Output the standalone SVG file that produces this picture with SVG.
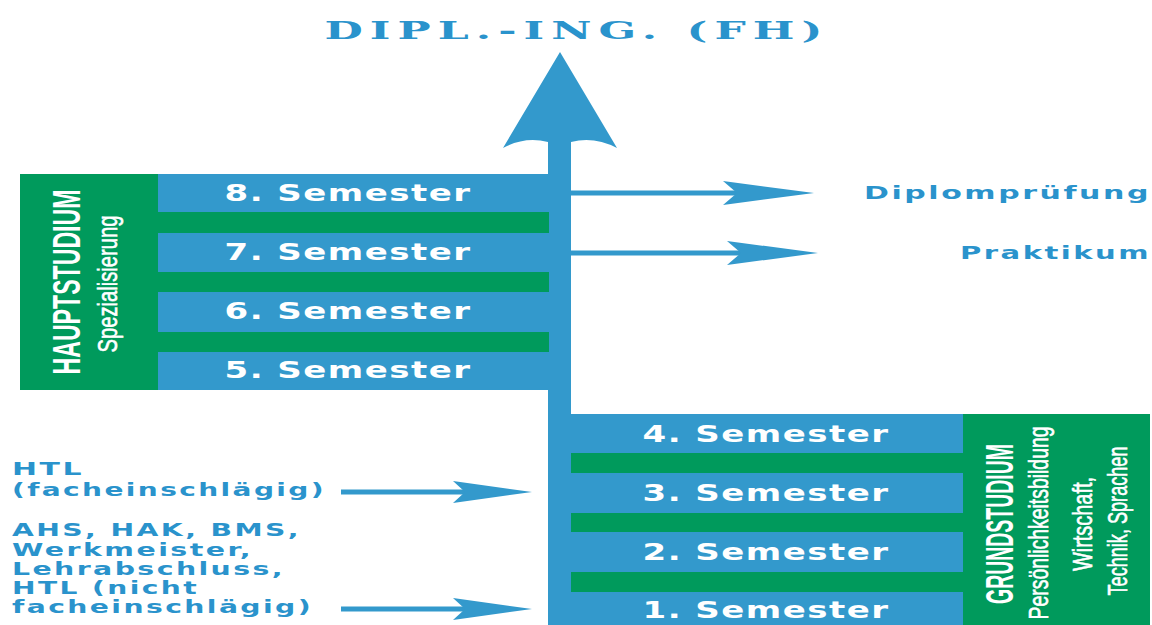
<svg xmlns="http://www.w3.org/2000/svg" width="1152" height="625" viewBox="0 0 1152 625">
<defs>
<style>
.blue{fill:#3399cc}
.green{fill:#009a5c}
.sem{font-family:"DejaVu Sans","Liberation Sans",sans-serif;font-weight:700;font-size:23px;letter-spacing:1px;fill:#ffffff;text-anchor:middle}
.vt{font-family:"Liberation Sans","DejaVu Sans",sans-serif;fill:#ffffff;text-anchor:middle}
.vb{font-weight:700;font-size:38px}
.vr{font-weight:400;font-size:28px;stroke:#ffffff;stroke-width:0.6px}
.lbl{font-family:"DejaVu Sans","Liberation Sans",sans-serif;font-weight:700;font-size:17.5px;letter-spacing:1.5px;fill:#2a93cc}
.title{font-family:"DejaVu Serif","Liberation Serif",serif;font-weight:700;font-size:25px;letter-spacing:4px;fill:#2a93cc;text-anchor:middle}
.conn{stroke:#3399cc;stroke-width:5;fill:none}
</style>
<marker id="ahR" markerUnits="userSpaceOnUse" markerWidth="92" markerHeight="26" viewBox="0 0 92 26" refX="20" refY="13" orient="auto">
<path d="M0,1 L91,13 L0,25 L14,13 Z" fill="#3399cc"/>
</marker>
<marker id="ahL" markerUnits="userSpaceOnUse" markerWidth="80" markerHeight="24" viewBox="0 0 80 24" refX="18" refY="12" orient="auto">
<path d="M0,1 L79,12 L0,23 L12,12 Z" fill="#3399cc"/>
</marker>
</defs>

<g id="title">
<text class="title" x="577" y="39" textLength="505" lengthAdjust="spacingAndGlyphs">DIPL.-ING. (FH)</text>
</g>

<g id="connectors">
<path id="main-arrow" class="blue" d="M560,52 L503,148 Q525,136 548,142 L548,625 L571,625 L571,142 Q594,136 617,148 Z"/>
<line class="conn" x1="570" y1="193" x2="743" y2="193" marker-end="url(#ahR)"/>
<line class="conn" x1="570" y1="253" x2="747" y2="253" marker-end="url(#ahR)"/>
<line class="conn" x1="341" y1="492" x2="471" y2="492" marker-end="url(#ahL)"/>
<line class="conn" x1="341" y1="609" x2="471" y2="609" marker-end="url(#ahL)"/>
</g>

<g id="hauptstudium">
<rect class="green" x="20" y="174" width="138" height="216"/>
<rect class="green" x="158" y="212" width="391" height="21"/>
<rect class="green" x="158" y="272" width="391" height="20"/>
<rect class="green" x="158" y="332" width="391" height="20"/>
<text class="vt vb" transform="translate(80,282) rotate(-90)" textLength="185" lengthAdjust="spacingAndGlyphs">HAUPTSTUDIUM</text>
<text class="vt vr" transform="translate(117,284) rotate(-90)" textLength="137" lengthAdjust="spacingAndGlyphs">Spezialisierung</text>
</g>

<g id="sem8"><rect class="blue" x="158" y="174" width="391" height="38"/><text class="sem" x="348" y="201" textLength="247" lengthAdjust="spacingAndGlyphs">8. Semester</text></g>
<g id="sem7"><rect class="blue" x="158" y="233" width="391" height="39"/><text class="sem" x="348" y="260" textLength="247" lengthAdjust="spacingAndGlyphs">7. Semester</text></g>
<g id="sem6"><rect class="blue" x="158" y="292" width="391" height="40"/><text class="sem" x="348" y="319" textLength="247" lengthAdjust="spacingAndGlyphs">6. Semester</text></g>
<g id="sem5"><rect class="blue" x="158" y="352" width="391" height="38"/><text class="sem" x="348" y="378" textLength="247" lengthAdjust="spacingAndGlyphs">5. Semester</text></g>

<g id="grundstudium">
<rect class="green" x="963" y="414" width="187" height="211"/>
<rect class="green" x="571" y="453" width="392" height="20"/>
<rect class="green" x="571" y="513" width="392" height="19"/>
<rect class="green" x="571" y="572" width="392" height="20"/>
<text class="vt vb" transform="translate(1013,524) rotate(-90)" textLength="160" lengthAdjust="spacingAndGlyphs">GRUNDSTUDIUM</text>
<text class="vt vr" transform="translate(1048,523) rotate(-90)" textLength="193" lengthAdjust="spacingAndGlyphs">Persönlichkeitsbildung</text>
<text class="vt vr" transform="translate(1092,524) rotate(-90)" textLength="94" lengthAdjust="spacingAndGlyphs">Wirtschaft,</text>
<text class="vt vr" transform="translate(1127,521) rotate(-90)" textLength="149" lengthAdjust="spacingAndGlyphs">Technik, Sprachen</text>
</g>

<g id="sem4"><rect class="blue" x="549" y="414" width="414" height="39"/><text class="sem" x="766" y="442" textLength="247" lengthAdjust="spacingAndGlyphs">4. Semester</text></g>
<g id="sem3"><rect class="blue" x="549" y="473" width="414" height="40"/><text class="sem" x="766" y="501" textLength="247" lengthAdjust="spacingAndGlyphs">3. Semester</text></g>
<g id="sem2"><rect class="blue" x="549" y="532" width="414" height="40"/><text class="sem" x="766" y="560" textLength="247" lengthAdjust="spacingAndGlyphs">2. Semester</text></g>
<g id="sem1"><rect class="blue" x="549" y="592" width="414" height="33"/><text class="sem" x="766" y="618" textLength="247" lengthAdjust="spacingAndGlyphs">1. Semester</text></g>

<g id="diplompruefung"><text class="lbl" x="864" y="199" textLength="287" lengthAdjust="spacingAndGlyphs">Diplomprüfung</text></g>
<g id="praktikum"><text class="lbl" x="960" y="259" textLength="191" lengthAdjust="spacingAndGlyphs">Praktikum</text></g>

<g id="htl-fach">
<text class="lbl" x="12" y="475" textLength="72" lengthAdjust="spacingAndGlyphs">HTL</text>
<text class="lbl" x="12" y="496" textLength="314" lengthAdjust="spacingAndGlyphs">(facheinschlägig)</text>
</g>
<g id="ahs">
<text class="lbl" x="12" y="536" textLength="289" lengthAdjust="spacingAndGlyphs">AHS, HAK, BMS,</text>
<text class="lbl" x="12" y="556" textLength="241" lengthAdjust="spacingAndGlyphs">Werkmeister,</text>
<text class="lbl" x="12" y="575" textLength="273" lengthAdjust="spacingAndGlyphs">Lehrabschluss,</text>
<text class="lbl" x="12" y="594" textLength="187" lengthAdjust="spacingAndGlyphs">HTL (nicht</text>
<text class="lbl" x="12" y="613" textLength="301" lengthAdjust="spacingAndGlyphs">facheinschlägig)</text>
</g>
</svg>
